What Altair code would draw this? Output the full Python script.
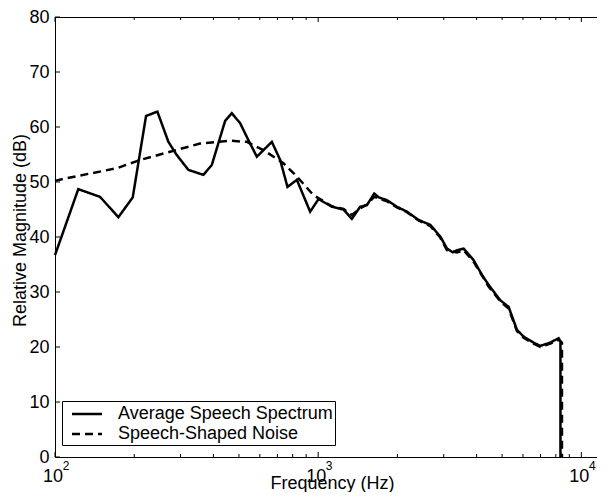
import altair as alt
import pandas as pd

S = "Average Speech Spectrum"
N = "Speech-Shaped Noise"

speech_freq = [100, 122.6, 148.3, 174.1, 197.4, 221.8, 244.9, 269.7, 290.2, 321.3,
               366.4, 394.3, 443.0, 469.8, 505.2, 543.3, 584.8, 666.8, 717.3, 764.6,
               829.9, 932.3, 1003, 1127, 1248, 1343, 1444, 1532, 1633, 1700,
               1825, 1992, 2175, 2407, 2667, 2910, 3086, 3250, 3369, 3569,
               3895, 4193, 4441, 4921, 5291, 5695, 6034, 6584, 6984, 7624,
               8197, 8330, 8330]
speech_db = [36.7, 48.7, 47.3, 43.6, 47.2, 62.0, 62.8, 57.3, 54.9, 52.2,
             51.3, 53.1, 61.1, 62.5, 60.7, 57.6, 54.6, 57.3, 54.0, 49.1,
             50.4, 44.6, 46.9, 45.5, 45.0, 43.3, 45.5, 45.8, 47.9, 47.2,
             46.7, 45.5, 44.6, 43.1, 42.2, 40.1, 37.9, 37.2, 37.6, 37.9,
             35.8, 33.1, 31.3, 28.5, 27.3, 23.1, 21.9, 20.8, 20.2, 20.8,
             21.6, 21.0, 0.0]

noise_freq = [100, 110.8, 171.7, 210.5, 273.7, 355.9, 462.8, 535.7, 619.5, 738.0,
              829.9, 959.8, 1050, 1127, 1248, 1343, 1444, 1532, 1633, 1825,
              1992, 2175, 2407, 2667, 2910, 3086, 3369, 3569, 3895, 4193,
              4441, 4921, 5291, 5695, 6034, 6584, 6984, 7624, 8197, 8440, 8440]
noise_db = [50.2, 50.7, 52.5, 54.0, 55.5, 57.0, 57.5, 57.3, 55.8, 53.4,
            51.0, 47.6, 46.5, 45.6, 45.1, 44.0, 45.2, 45.9, 47.3, 46.5,
            45.4, 44.5, 43.0, 42.0, 39.9, 37.6, 37.2, 37.6, 35.5, 33.0,
            31.0, 28.3, 27.0, 22.9, 21.7, 20.6, 20.0, 20.6, 21.3, 20.8, 0.0]

decades = [100, 1000, 10000]
minor_ticks = [200, 300, 400, 500, 600, 700, 800, 900,
               2000, 3000, 4000, 5000, 6000, 7000, 8000, 9000]
y_ticks = [0, 10, 20, 30, 40, 50, 60, 70, 80]

rows = []
for i, (f, d) in enumerate(zip(speech_freq, speech_db)):
    rows.append({"series": S, "freq": f, "db": d, "idx": i})
for i, (f, d) in enumerate(zip(noise_freq, noise_db)):
    rows.append({"series": N, "freq": f, "db": d, "idx": i})
df = pd.DataFrame(rows)

major_df = pd.DataFrame({"v": decades})
minor_df = pd.DataFrame({"v": minor_ticks})
ytick_df = pd.DataFrame({"v": y_ticks})

W, H = 550, 440
FONT = "Liberation Sans"

xs = alt.Scale(type="log", domain=[100, 12300], nice=False)
ys = alt.Scale(domain=[0, 80], nice=False, zero=False)
dash_scale = alt.Scale(domain=[S, N], range=[[1, 0], [8, 5]])

legend = alt.Legend(
    title=None, orient="none", legendX=7, legendY=384, direction="vertical",
    fillColor="white", strokeColor="black", padding=2, cornerRadius=0,
    symbolType="M-1.579,0H1.579", symbolSize=361, symbolStrokeWidth=2.5,
    symbolStrokeColor="black", symbolFillColor="transparent",
    labelFont=FONT, labelFontSize=18, labelColor="black", labelOffset=20,
    labelLimit=400, rowPadding=0, symbolOffset=12,
)


# inward tick marks drawn as short rules from the plot edges
def xticks(data, length, edge, inner):
    return alt.Chart(data).mark_rule(color="black", strokeWidth=1).encode(
        x=alt.X("v:Q", scale=xs, axis=None),
        y=alt.value(edge), y2=alt.value(inner),
    )


def yticks(data, length):
    return alt.Chart(data).mark_rule(color="black", strokeWidth=1).encode(
        y=alt.Y("v:Q", scale=ys, axis=None),
        x=alt.value(0), x2=alt.value(length),
    )


base = alt.Chart(df)

noise = base.transform_filter(alt.datum.series == N).mark_line(
    color="black", strokeWidth=2.5
).encode(
    x=alt.X("freq:Q", scale=xs, axis=alt.Axis(
        orient="bottom", values=decades, labelExpr="'10'", ticks=False,
        domain=False, labelOffset=-2.5, labelPadding=10, labelFlush=False,
        labelFontSize=18, grid=False, title="Frequency (Hz)",
        titleX=277, titleY=31.5, titleBaseline="alphabetic")),
    y=alt.Y("db:Q", scale=ys, axis=alt.Axis(
        orient="left", values=y_ticks, ticks=False, domain=False,
        labelPadding=6, labelFontSize=18, grid=False, labelFlush=False,
        title="Relative Magnitude (dB)", titleX=-35, titleY=213,
        titleBaseline="middle", titleAngle=270)),
    strokeDash=alt.StrokeDash("series:N", scale=dash_scale, legend=legend),
    order="idx:Q",
)

speech = base.transform_filter(alt.datum.series == S).mark_line(
    color="black", strokeWidth=2.5
).encode(
    x=alt.X("freq:Q", scale=xs, axis=alt.Axis(
        orient="bottom", values=decades,
        labelExpr="datum.value == 100 ? '2' : datum.value == 1000 ? '3' : '4'",
        ticks=False, domain=False, labelOffset=10.5, labelPadding=3,
        labelFlush=False, labelFontSize=12, grid=False, title="")),
    y=alt.Y("db:Q", scale=ys, axis=None),
    strokeDash=alt.StrokeDash("series:N", scale=dash_scale, legend=legend),
    order="idx:Q",
)

layers = [
    xticks(major_df, 5, H, H - 5),
    xticks(minor_df, 3, H, H - 3),
    xticks(major_df, 5, 0, 5),
    xticks(minor_df, 3, 0, 3),
    yticks(ytick_df, 5),
    noise,
    speech,
]

chart = alt.layer(*layers).resolve_axis(
    x="independent", y="independent"
).properties(
    width=W, height=H, autosize="none",
    padding={"left": 47, "top": 9, "right": -8, "bottom": 35},
).configure_view(stroke="black", strokeWidth=1).configure_axis(
    labelFont=FONT, titleFont=FONT, labelColor="black", titleColor="black",
    titleFontSize=18, titleFontWeight="normal",
)

chart.save("out.html", embed_options={"renderer": "svg", "actions": False})
